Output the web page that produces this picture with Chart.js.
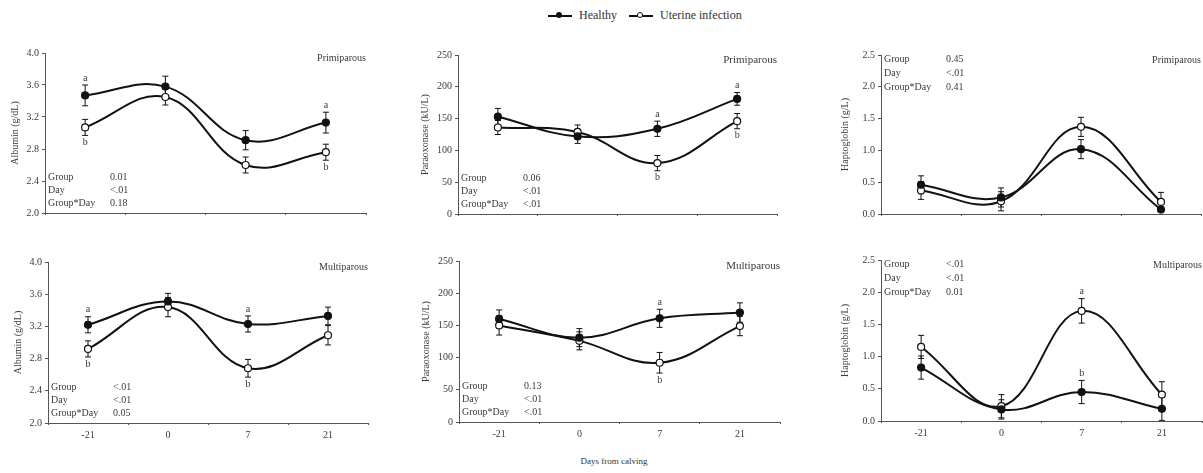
<!DOCTYPE html>
<html>
<head>
<meta charset="utf-8">
<title>Albumin, paraoxonase and haptoglobin</title>
<script src="https://cdn.jsdelivr.net/npm/chart.js@4/dist/chart.umd.min.js"></script>
<style>
  body { margin: 0; width: 1203px; height: 473px; background: #fff; overflow: hidden; position: relative; font-family: "Liberation Serif", "DejaVu Serif", serif; color: #333; }
  canvas { position: absolute; }
  .legend { position: absolute; top: 8px; left: 548px; font-size: 12px; color: #333; display: flex; align-items: center; white-space: nowrap; }
  .mark { position: relative; width: 24px; height: 2px; background: #111; margin-right: 7px; }
  .mark i { position: absolute; left: 8px; top: -3px; width: 6px; height: 6px; border-radius: 50%; background: #111; box-sizing: border-box; }
  .mark.open i { background: #fff; border: 1.3px solid #111; }
  .xtitle { position: absolute; top: 456px; left: 0; width: 1228px; text-align: center; font-size: 9px; color: #333; }
</style>
</head>
<body>
<div class="legend">
  <span class="mark"><i></i></span><span>Healthy</span>
  <span class="mark open" style="margin-left:12px"><i></i></span><span>Uterine infection</span>
</div>
<div class="xtitle">Days from calving</div>

<canvas id="albPri"></canvas>
<canvas id="ponPri"></canvas>
<canvas id="hpPri"></canvas>
<canvas id="albMul"></canvas>
<canvas id="ponMul"></canvas>
<canvas id="hpMul"></canvas>

<script>
// data
const days = ["-21", "0", "7", "21"];
const statNames = ["Group", "Day", "Group*Day"];

const albPriHealthy = [3.47, 3.58, 2.91, 3.13];
const albPriHealthySE = [0.13, 0.13, 0.12, 0.13];
const albPriInfect = [3.07, 3.45, 2.60, 2.76];
const albPriInfectSE = [0.10, 0.10, 0.10, 0.10];
const albPriHealthyLetters = ["a", "", "", "a"];
const albPriInfectLetters = ["b", "", "", "b"];
const albPriP = ["0.01", "<.01", "0.18"];

const ponPriHealthy = [153, 122, 134, 181];
const ponPriHealthySE = [13, 11, 12, 10];
const ponPriInfect = [136, 129, 80, 146];
const ponPriInfectSE = [11, 11, 12, 12];
const ponPriHealthyLetters = ["", "", "a", "a"];
const ponPriInfectLetters = ["", "", "b", "b"];
const ponPriP = ["0.06", "<.01", "<.01"];

const hpPriHealthy = [0.46, 0.26, 1.02, 0.07];
const hpPriHealthySE = [0.14, 0.15, 0.15, 0.02];
const hpPriInfect = [0.37, 0.20, 1.37, 0.19];
const hpPriInfectSE = [0.14, 0.15, 0.15, 0.15];
const hpPriHealthyLetters = ["", "", "", ""];
const hpPriInfectLetters = ["", "", "", ""];
const hpPriP = ["0.45", "<.01", "0.41"];

const albMulHealthy = [3.22, 3.51, 3.23, 3.33];
const albMulHealthySE = [0.10, 0.10, 0.10, 0.11];
const albMulInfect = [2.92, 3.44, 2.68, 3.09];
const albMulInfectSE = [0.10, 0.12, 0.11, 0.12];
const albMulHealthyLetters = ["a", "", "a", ""];
const albMulInfectLetters = ["b", "", "b", ""];
const albMulP = ["<.01", "<.01", "0.05"];

const ponMulHealthy = [160, 131, 161, 170];
const ponMulHealthySE = [14, 14, 14, 15];
const ponMulInfect = [150, 126, 92, 149];
const ponMulInfectSE = [15, 14, 16, 15];
const ponMulHealthyLetters = ["", "", "a", ""];
const ponMulInfectLetters = ["", "", "b", ""];
const ponMulP = ["0.13", "<.01", "<.01"];

const hpMulHealthy = [0.83, 0.18, 0.45, 0.19];
const hpMulHealthySE = [0.18, 0.15, 0.18, 0.18];
const hpMulInfect = [1.15, 0.23, 1.71, 0.41];
const hpMulInfectSE = [0.18, 0.18, 0.19, 0.20];
const hpMulHealthyLetters = ["", "", "b", ""];
const hpMulInfectLetters = ["", "", "a", ""];
const hpMulP = ["<.01", "<.01", "0.01"];

const AXW = 44;   // y axis box width
const PADT = 10;  // space above plot area
const PADR = 4;
const XH = 24;    // x axis box height
const FONT = "Liberation Serif";
const INK = "#111";
const TXT = "#3a3a3a";

// draws error bars, a/b letters, p-value table and the parity tag
const extrasPlugin = {
  id: "extras",
  beforeDatasetsDraw(chart) {
    const ctx = chart.ctx;
    const y = chart.scales.y;
    ctx.save();
    ctx.strokeStyle = INK;
    ctx.lineWidth = 1;
    chart.data.datasets.forEach((ds, i) => {
      const meta = chart.getDatasetMeta(i);
      ds.data.forEach((v, j) => {
        const x = meta.data[j].x;
        const y1 = y.getPixelForValue(v + ds.se[j]);
        const y2 = y.getPixelForValue(v - ds.se[j]);
        ctx.beginPath();
        ctx.moveTo(x, y1); ctx.lineTo(x, y2);
        ctx.moveTo(x - 3, y1); ctx.lineTo(x + 3, y1);
        ctx.moveTo(x - 3, y2); ctx.lineTo(x + 3, y2);
        ctx.stroke();
      });
    });
    ctx.restore();
  },
  afterDatasetsDraw(chart, args, opts) {
    const ctx = chart.ctx;
    const y = chart.scales.y;
    const area = chart.chartArea;
    ctx.save();
    ctx.fillStyle = TXT;
    ctx.textBaseline = "middle";
    ctx.font = "10px " + FONT;
    ctx.textAlign = "center";
    chart.data.datasets.forEach((ds, i) => {
      const meta = chart.getDatasetMeta(i);
      ds.letters.forEach((l, j) => {
        if (!l) return;
        const x = meta.data[j].x;
        const v = ds.data[j];
        const yy = ds.letterSide === "up"
          ? y.getPixelForValue(v + ds.se[j]) - 7
          : y.getPixelForValue(v - ds.se[j]) + 7;
        ctx.fillText(l, x, yy);
      });
    });

    ctx.textAlign = "left";
    opts.stats.forEach((s, k) => {
      const yy = opts.statsAt === "top" ? area.top + 4 + k * 14 : area.bottom - 36 + k * 13;
      ctx.fillText(statNames[k], area.left + 3, yy);
      ctx.fillText(s, area.left + 65, yy);
    });

    ctx.textAlign = "right";
    ctx.font = opts.tagSize + "px " + FONT;
    ctx.fillText(opts.tag, area.right, area.top + 5);
    ctx.restore();
  }
};

function makePanel(id, box, cfg) {
  const canvas = document.getElementById(id);
  const w = AXW + (box.r - box.l) + PADR;
  const h = PADT + (box.b - box.t) + XH;
  canvas.width = w;
  canvas.height = h;
  canvas.style.left = (box.l - AXW) + "px";
  canvas.style.top = (box.t - PADT) + "px";

  new Chart(canvas.getContext("2d"), {
    type: "line",
    data: {
      labels: days,
      datasets: [
        {
          label: "Healthy",
          data: cfg.healthy,
          se: cfg.healthySE,
          letters: cfg.healthyLetters,
          letterSide: "up",
          borderColor: INK,
          borderWidth: 2,
          pointRadius: 3.5,
          pointBackgroundColor: INK,
          pointBorderColor: INK,
          pointBorderWidth: 1.2,
          tension: 0.4,
          clip: false,
        },
        {
          label: "Uterine infection",
          data: cfg.infect,
          se: cfg.infectSE,
          letters: cfg.infectLetters,
          letterSide: cfg.infectLetterSide,
          borderColor: INK,
          borderWidth: 2,
          pointRadius: 3.5,
          pointBackgroundColor: "#fff",
          pointBorderColor: INK,
          pointBorderWidth: 1.2,
          tension: 0.4,
          clip: false,
        },
      ],
    },
    options: {
      responsive: false,
      animation: false,
      layout: { autoPadding: false, padding: { top: PADT, right: PADR, left: 0, bottom: 0 } },
      plugins: {
        legend: { display: false },
        tooltip: { enabled: false },
        extras: { stats: cfg.stats, statsAt: cfg.statsAt, tag: cfg.tag, tagSize: cfg.tagSize },
      },
      scales: {
        x: {
          type: "category",
          offset: true,
          afterFit: (s) => { s.height = XH; },
          grid: { offset: true, drawOnChartArea: false, tickLength: 2, color: "#555" },
          border: { color: "#555", width: 1 },
          ticks: { display: cfg.showX, color: TXT, font: { family: FONT, size: 10 }, padding: 4 },
        },
        y: {
          min: cfg.min,
          max: cfg.max,
          afterFit: (s) => { s.width = AXW; },
          grid: { drawOnChartArea: false, tickLength: 3, color: "#555" },
          border: { color: "#555", width: 1 },
          ticks: {
            stepSize: cfg.step,
            color: TXT,
            padding: 3,
            font: { family: FONT, size: 10 },
            callback: (v) => v.toFixed(cfg.dec),
          },
          title: {
            display: true,
            text: cfg.title,
            color: TXT,
            font: { family: FONT, size: 10 },
            padding: { top: cfg.titlePad, bottom: 0 },
          },
        },
      },
    },
    plugins: [extrasPlugin],
  });
}

makePanel("albPri", { l: 45, r: 366, t: 53, b: 213 }, {
  healthy: albPriHealthy, healthySE: albPriHealthySE, healthyLetters: albPriHealthyLetters,
  infect: albPriInfect, infectSE: albPriInfectSE, infectLetters: albPriInfectLetters, infectLetterSide: "down",
  min: 2.0, max: 4.0, step: 0.4, dec: 1, title: "Albumin (g/dL)", titlePad: 8,
  stats: albPriP, statsAt: "bottom", tag: "Primiparous", tagSize: 10, showX: false,
});

makePanel("ponPri", { l: 458, r: 777, t: 55, b: 214 }, {
  healthy: ponPriHealthy, healthySE: ponPriHealthySE, healthyLetters: ponPriHealthyLetters,
  infect: ponPriInfect, infectSE: ponPriInfectSE, infectLetters: ponPriInfectLetters, infectLetterSide: "down",
  min: 0, max: 250, step: 50, dec: 0, title: "Paraoxonase (kU/L)", titlePad: 5,
  stats: ponPriP, statsAt: "bottom", tag: "Primiparous", tagSize: 11, showX: false,
});

makePanel("hpPri", { l: 881, r: 1201, t: 55, b: 214 }, {
  healthy: hpPriHealthy, healthySE: hpPriHealthySE, healthyLetters: hpPriHealthyLetters,
  infect: hpPriInfect, infectSE: hpPriInfectSE, infectLetters: hpPriInfectLetters, infectLetterSide: "down",
  min: 0, max: 2.5, step: 0.5, dec: 1, title: "Haptoglobin (g/L)", titlePad: 2,
  stats: hpPriP, statsAt: "top", tag: "Primiparous", tagSize: 10, showX: false,
});

makePanel("albMul", { l: 48, r: 368, t: 262, b: 423 }, {
  healthy: albMulHealthy, healthySE: albMulHealthySE, healthyLetters: albMulHealthyLetters,
  infect: albMulInfect, infectSE: albMulInfectSE, infectLetters: albMulInfectLetters, infectLetterSide: "down",
  min: 2.0, max: 4.0, step: 0.4, dec: 1, title: "Albumin (g/dL)", titlePad: 8,
  stats: albMulP, statsAt: "bottom", tag: "Multiparous", tagSize: 10, showX: true,
});

makePanel("ponMul", { l: 459, r: 780, t: 261, b: 422 }, {
  healthy: ponMulHealthy, healthySE: ponMulHealthySE, healthyLetters: ponMulHealthyLetters,
  infect: ponMulInfect, infectSE: ponMulInfectSE, infectLetters: ponMulInfectLetters, infectLetterSide: "down",
  min: 0, max: 250, step: 50, dec: 0, title: "Paraoxonase (kU/L)", titlePad: 5,
  stats: ponMulP, statsAt: "bottom", tag: "Multiparous", tagSize: 11, showX: true,
});

makePanel("hpMul", { l: 881, r: 1202, t: 260, b: 421 }, {
  healthy: hpMulHealthy, healthySE: hpMulHealthySE, healthyLetters: hpMulHealthyLetters,
  infect: hpMulInfect, infectSE: hpMulInfectSE, infectLetters: hpMulInfectLetters, infectLetterSide: "up",
  min: 0, max: 2.5, step: 0.5, dec: 1, title: "Haptoglobin (g/L)", titlePad: 2,
  stats: hpMulP, statsAt: "top", tag: "Multiparous", tagSize: 10, showX: true,
});
</script>
</body>
</html>
